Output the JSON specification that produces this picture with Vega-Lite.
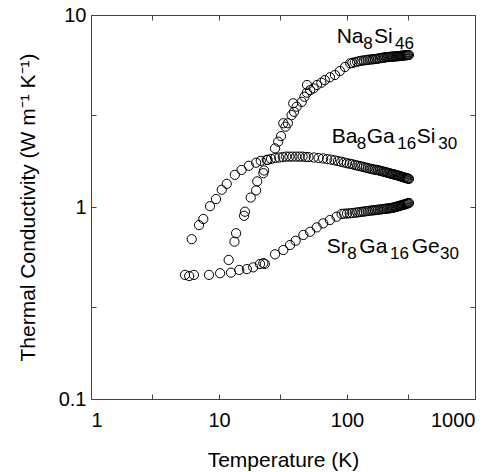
{
"$schema":"https://vega.github.io/schema/vega-lite/v6.json",
"width":384,"height":384,
"autosize":{"type":"none"},
"padding":{"left":91,"top":15,"right":25,"bottom":73},
"config":{"view":{"stroke":"#444","strokeWidth":1},"font":"Liberation Sans",
 "axis":{"grid":false,"domain":false,"tickColor":"#444","tickSize":-5,"labelFontSize":20,"labelColor":"black","titleFontSize":21,"titleFontWeight":"normal","titleColor":"black"}},
"datasets":{"labels":[
{"T":83.1,"k":7.12,"text":"Na","kind":"main"},{"T":134.1,"k":7.12,"text":"8","kind":"sub"},{"T":162.5,"k":7.12,"text":"Si","kind":"main"},{"T":237.1,"k":7.12,"text":"46","kind":"sub"},
{"T":75.9,"k":2.16,"text":"Ba","kind":"main"},{"T":119.1,"k":2.16,"text":"8","kind":"sub"},{"T":142.5,"k":2.16,"text":"Ga","kind":"main"},{"T":247.2,"k":2.16,"text":"16","kind":"sub"},{"T":350.4,"k":2.16,"text":"Si","kind":"main"},{"T":516.8,"k":2.16,"text":"30","kind":"sub"},
{"T":69.4,"k":0.574,"text":"Sr","kind":"main"},{"T":100.5,"k":0.574,"text":"8","kind":"sub"},{"T":124.8,"k":0.574,"text":"Ga","kind":"main"},{"T":216.7,"k":0.574,"text":"16","kind":"sub"},{"T":320.2,"k":0.574,"text":"Ge","kind":"main"},{"T":532.8,"k":0.574,"text":"30","kind":"sub"}
]},
"data":{"values":[
{"s":"Na","T":11.9,"k":0.53},{"s":"Na","T":13.2,"k":0.66},{"s":"Na","T":13.6,"k":0.73},{"s":"Na","T":15.7,"k":0.9},{"s":"Na","T":15.95,"k":0.945},{"s":"Na","T":17.7,"k":1.12},{"s":"Na","T":19.5,"k":1.22},{"s":"Na","T":19.9,"k":1.36},{"s":"Na","T":22.2,"k":1.5},{"s":"Na","T":22.5,"k":1.55},{"s":"Na","T":24.0,"k":1.76},{"s":"Na","T":27.4,"k":2.02},{"s":"Na","T":29.0,"k":2.19},{"s":"Na","T":30.5,"k":2.34},{"s":"Na","T":31.8,"k":2.73},{"s":"Na","T":33.1,"k":2.62},{"s":"Na","T":34.5,"k":2.73},{"s":"Na","T":36.9,"k":3.01},{"s":"Na","T":38.0,"k":3.47},{"s":"Na","T":38.6,"k":3.13},{"s":"Na","T":40.4,"k":3.33},{"s":"Na","T":44.3,"k":3.53},{"s":"Na","T":46.5,"k":3.75},{"s":"Na","T":48.6,"k":3.94},{"s":"Na","T":48.7,"k":4.32},{"s":"Na","T":51.6,"k":4.06},{"s":"Na","T":54.8,"k":4.15},{"s":"Na","T":58.3,"k":4.32},{"s":"Na","T":63.1,"k":4.44},{"s":"Na","T":67.1,"k":4.58},{"s":"Na","T":73.5,"k":4.74},{"s":"Na","T":80.5,"k":4.87},{"s":"Na","T":88,"k":5.11},{"s":"Na","T":96.5,"k":5.36},{"s":"Na","T":106,"k":5.6},
{"s":"Na","T":110,"k":5.63},{"s":"Na","T":115,"k":5.67},{"s":"Na","T":120,"k":5.71},{"s":"Na","T":125,"k":5.75},{"s":"Na","T":130,"k":5.78},{"s":"Na","T":135,"k":5.8},{"s":"Na","T":140,"k":5.82},{"s":"Na","T":145,"k":5.84},{"s":"Na","T":150,"k":5.86},{"s":"Na","T":155,"k":5.87},{"s":"Na","T":160,"k":5.88},{"s":"Na","T":165,"k":5.9},{"s":"Na","T":170,"k":5.91},{"s":"Na","T":175,"k":5.93},{"s":"Na","T":180,"k":5.95},{"s":"Na","T":185,"k":5.97},{"s":"Na","T":190,"k":5.99},{"s":"Na","T":195,"k":6.0},{"s":"Na","T":200,"k":6.02},{"s":"Na","T":205,"k":6.03},{"s":"Na","T":210,"k":6.04},{"s":"Na","T":215,"k":6.05},{"s":"Na","T":220,"k":6.06},{"s":"Na","T":225,"k":6.07},{"s":"Na","T":230,"k":6.07},{"s":"Na","T":235,"k":6.08},{"s":"Na","T":240,"k":6.09},{"s":"Na","T":245,"k":6.1},{"s":"Na","T":250,"k":6.1},{"s":"Na","T":255,"k":6.11},{"s":"Na","T":260,"k":6.12},{"s":"Na","T":265,"k":6.13},{"s":"Na","T":270,"k":6.14},{"s":"Na","T":275,"k":6.15},{"s":"Na","T":280,"k":6.16},{"s":"Na","T":285,"k":6.17},{"s":"Na","T":290,"k":6.17},{"s":"Na","T":295,"k":6.18},{"s":"Na","T":300,"k":6.19},{"s":"Na","T":305,"k":6.19},
{"s":"Ba","T":6.12,"k":0.68},{"s":"Ba","T":6.98,"k":0.805},{"s":"Ba","T":7.54,"k":0.866},{"s":"Ba","T":8.5,"k":1.01},{"s":"Ba","T":9.48,"k":1.1},{"s":"Ba","T":10.5,"k":1.23},{"s":"Ba","T":11.5,"k":1.32},{"s":"Ba","T":13.3,"k":1.47},{"s":"Ba","T":15.0,"k":1.56},{"s":"Ba","T":17.1,"k":1.64},{"s":"Ba","T":19.5,"k":1.7},{"s":"Ba","T":21.2,"k":1.74},{"s":"Ba","T":23.6,"k":1.76},{"s":"Ba","T":25.5,"k":1.78},{"s":"Ba","T":27.5,"k":1.8},{"s":"Ba","T":29.5,"k":1.81},{"s":"Ba","T":31.5,"k":1.82},{"s":"Ba","T":33.5,"k":1.83},{"s":"Ba","T":35.5,"k":1.83},{"s":"Ba","T":37.5,"k":1.83},{"s":"Ba","T":40,"k":1.83},{"s":"Ba","T":42.5,"k":1.83},{"s":"Ba","T":45,"k":1.83},{"s":"Ba","T":47.5,"k":1.82},{"s":"Ba","T":50,"k":1.82},{"s":"Ba","T":55,"k":1.81},{"s":"Ba","T":60,"k":1.8},{"s":"Ba","T":65,"k":1.79},{"s":"Ba","T":70,"k":1.775},{"s":"Ba","T":75,"k":1.765},{"s":"Ba","T":80,"k":1.75},{"s":"Ba","T":85,"k":1.735},{"s":"Ba","T":90,"k":1.72},{"s":"Ba","T":95,"k":1.705},{"s":"Ba","T":100,"k":1.69},{"s":"Ba","T":105,"k":1.68},{"s":"Ba","T":110,"k":1.67},{"s":"Ba","T":115,"k":1.655},{"s":"Ba","T":120,"k":1.645},{"s":"Ba","T":125,"k":1.635},{"s":"Ba","T":130,"k":1.625},{"s":"Ba","T":135,"k":1.615},{"s":"Ba","T":140,"k":1.605},{"s":"Ba","T":145,"k":1.595},{"s":"Ba","T":150,"k":1.585},{"s":"Ba","T":155,"k":1.58},{"s":"Ba","T":160,"k":1.57},{"s":"Ba","T":165,"k":1.565},{"s":"Ba","T":170,"k":1.56},{"s":"Ba","T":175,"k":1.555},{"s":"Ba","T":180,"k":1.545},{"s":"Ba","T":185,"k":1.54},{"s":"Ba","T":190,"k":1.53},{"s":"Ba","T":195,"k":1.525},{"s":"Ba","T":200,"k":1.52},{"s":"Ba","T":205,"k":1.51},{"s":"Ba","T":210,"k":1.505},{"s":"Ba","T":215,"k":1.5},{"s":"Ba","T":220,"k":1.49},{"s":"Ba","T":225,"k":1.485},{"s":"Ba","T":230,"k":1.48},{"s":"Ba","T":235,"k":1.475},{"s":"Ba","T":240,"k":1.47},{"s":"Ba","T":245,"k":1.465},{"s":"Ba","T":250,"k":1.46},{"s":"Ba","T":255,"k":1.45},{"s":"Ba","T":260,"k":1.45},{"s":"Ba","T":265,"k":1.44},{"s":"Ba","T":270,"k":1.435},{"s":"Ba","T":275,"k":1.43},{"s":"Ba","T":280,"k":1.425},{"s":"Ba","T":285,"k":1.42},{"s":"Ba","T":290,"k":1.415},{"s":"Ba","T":295,"k":1.41},{"s":"Ba","T":300,"k":1.405},{"s":"Ba","T":305,"k":1.4},
{"s":"Sr","T":5.42,"k":0.443},{"s":"Sr","T":5.85,"k":0.437},{"s":"Sr","T":6.37,"k":0.443},{"s":"Sr","T":8.35,"k":0.443},{"s":"Sr","T":10.2,"k":0.452},{"s":"Sr","T":12.4,"k":0.455},{"s":"Sr","T":14.4,"k":0.47},{"s":"Sr","T":16.5,"k":0.475},{"s":"Sr","T":18.5,"k":0.485},{"s":"Sr","T":20.9,"k":0.505},{"s":"Sr","T":22.2,"k":0.51},{"s":"Sr","T":22.8,"k":0.505},{"s":"Sr","T":27.4,"k":0.567},{"s":"Sr","T":31.8,"k":0.597},{"s":"Sr","T":35.9,"k":0.634},{"s":"Sr","T":39.7,"k":0.667},{"s":"Sr","T":45.6,"k":0.715},{"s":"Sr","T":51.5,"k":0.743},{"s":"Sr","T":58,"k":0.783},{"s":"Sr","T":65.2,"k":0.822},{"s":"Sr","T":73.5,"k":0.855},{"s":"Sr","T":82.9,"k":0.89},{"s":"Sr","T":90.7,"k":0.92},
{"s":"Sr","T":95,"k":0.923},{"s":"Sr","T":100,"k":0.925},{"s":"Sr","T":105,"k":0.927},{"s":"Sr","T":110,"k":0.93},{"s":"Sr","T":115,"k":0.933},{"s":"Sr","T":120,"k":0.937},{"s":"Sr","T":125,"k":0.94},{"s":"Sr","T":130,"k":0.944},{"s":"Sr","T":135,"k":0.946},{"s":"Sr","T":140,"k":0.95},{"s":"Sr","T":145,"k":0.953},{"s":"Sr","T":150,"k":0.956},{"s":"Sr","T":155,"k":0.958},{"s":"Sr","T":160,"k":0.961},{"s":"Sr","T":165,"k":0.963},{"s":"Sr","T":170,"k":0.965},{"s":"Sr","T":175,"k":0.968},{"s":"Sr","T":180,"k":0.97},{"s":"Sr","T":185,"k":0.972},{"s":"Sr","T":190,"k":0.975},{"s":"Sr","T":195,"k":0.977},{"s":"Sr","T":200,"k":0.979},{"s":"Sr","T":205,"k":0.981},{"s":"Sr","T":210,"k":0.983},{"s":"Sr","T":215,"k":0.984},{"s":"Sr","T":220,"k":0.987},{"s":"Sr","T":225,"k":0.99},{"s":"Sr","T":230,"k":0.993},{"s":"Sr","T":235,"k":0.996},{"s":"Sr","T":240,"k":1.0},{"s":"Sr","T":245,"k":1.004},{"s":"Sr","T":250,"k":1.008},{"s":"Sr","T":255,"k":1.012},{"s":"Sr","T":260,"k":1.016},{"s":"Sr","T":265,"k":1.02},{"s":"Sr","T":270,"k":1.023},{"s":"Sr","T":275,"k":1.026},{"s":"Sr","T":280,"k":1.03},{"s":"Sr","T":285,"k":1.034},{"s":"Sr","T":290,"k":1.038},{"s":"Sr","T":295,"k":1.042},{"s":"Sr","T":300,"k":1.046},{"s":"Sr","T":305,"k":1.05}
]},
"layer":[
{"mark":{"type":"point","filled":false,"stroke":"black","strokeWidth":1,"size":85,"opacity":1},
 "encoding":{
  "x":{"field":"T","type":"quantitative","scale":{"type":"log","domain":[1,1000]},
   "axis":{"orient":"bottom","values":[1,3,10,30,100,300,1000],"labelExpr":"datum.value == 1 || datum.value == 10 || datum.value == 100 || datum.value == 1000 ? datum.value + '' : ''","labelPadding":16,"title":"Temperature (K)","titlePadding":19}},
  "y":{"field":"k","type":"quantitative","scale":{"type":"log","domain":[0.1,10]},
   "axis":{"orient":"left","values":[0.1,0.3,1,3,10],"labelExpr":"datum.value == 0.1 ? '0.1' : datum.value == 1 ? '1' : datum.value == 10 ? '10' : ''","labelPadding":10,"title":"Thermal Conductivity (W m⁻¹ K⁻¹)","titlePadding":20}}}},
{"mark":{"type":"point","opacity":0},
 "encoding":{
  "x":{"field":"T","type":"quantitative","axis":{"orient":"top","values":[1,3,10,30,100,300,1000],"labels":false,"title":null}},
  "y":{"field":"k","type":"quantitative","axis":{"orient":"right","values":[0.1,0.3,1,3,10],"labels":false,"title":null}}}},
{"data":{"name":"labels"},"transform":[{"filter":"datum.kind == 'main'"}],
 "mark":{"type":"text","align":"left","baseline":"alphabetic","fontSize":21,"font":"Liberation Sans","color":"black"},
 "encoding":{"x":{"field":"T","type":"quantitative","axis":null},"y":{"field":"k","type":"quantitative","axis":null},"text":{"field":"text"}}},
{"data":{"name":"labels"},"transform":[{"filter":"datum.kind == 'sub'"}],
 "mark":{"type":"text","align":"left","baseline":"alphabetic","fontSize":17,"dy":6,"font":"Liberation Sans","color":"black"},
 "encoding":{"x":{"field":"T","type":"quantitative","axis":null},"y":{"field":"k","type":"quantitative","axis":null},"text":{"field":"text"}}}
],
"resolve":{"axis":{"x":"independent","y":"independent"}}
}
